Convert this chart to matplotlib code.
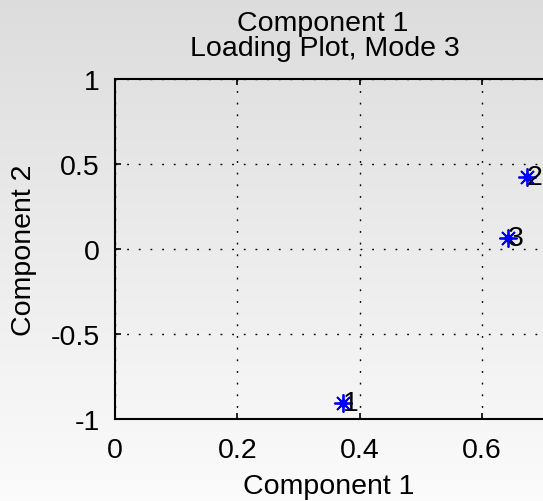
import numpy as np
import matplotlib
matplotlib.use("Agg")
import matplotlib.pyplot as plt

# loading values for mode 3, components 1 and 2
labels = ["1", "2", "3"]
comp1 = [0.373, 0.673, 0.643]
comp2 = [-0.904, 0.424, 0.063]

x_ticks = [0, 0.2, 0.4, 0.6]
x_ticklabels = ["0", "0.2", "0.4", "0.6"]
y_ticks = [-1, -0.5, 0, 0.5, 1]
y_ticklabels = ["-1", "-0.5", "0", "0.5", "1"]

plt.rcParams["font.family"] = ["Liberation Sans", "DejaVu Sans"]
FS = 20.5

W, H = 543, 502
fig = plt.figure(figsize=(W / 100, H / 100), dpi=100)

# grey figure gradient, darker at the top
bg = fig.add_axes([0, 0, 1, 1], zorder=-10)
grad = np.linspace(0.865, 0.985, 256).reshape(-1, 1)
bg.imshow(np.dstack([grad, grad, grad]), aspect="auto", extent=[0, 1, 0, 1],
          interpolation="bilinear")
bg.set_axis_off()

left, right = 115, 543.2
top, bottom = 80, 420
ax = fig.add_axes([left / W, 1 - bottom / H, (right - left) / W, (bottom - top) / H])
ax.patch.set_alpha(0)

ax.plot(comp1, comp2, linestyle="none", marker=(8, 2, 0), markersize=13,
        markeredgewidth=1.3, color=(0, 0, 1), zorder=3)
ax.plot(comp1, comp2, linestyle="none", marker="o", markersize=5,
        color=(0, 0, 1), zorder=3)
for lab, xv, yv in zip(labels, comp1, comp2):
    ax.text(xv, yv, lab, fontsize=FS, ha="left", va="center",
            color="black", zorder=4, clip_on=False)

ax.set_xlim(0, 0.7)
ax.set_ylim(-1, 1)
ax.set_xticks(x_ticks)
ax.set_xticklabels(x_ticklabels)
ax.set_yticks(y_ticks)
ax.set_yticklabels(y_ticklabels)
ax.tick_params(direction="in", top=True, length=4, width=1.2, labelsize=FS,
               colors="black")
ax.tick_params(axis="x", pad=13)
ax.tick_params(axis="y", pad=11)

ax.grid(True, color="black", linewidth=1.0, linestyle=(0, (1.3, 7.1)))
ax.set_axisbelow(True)
for side in ["left", "bottom", "top"]:
    ax.spines[side].set_linewidth(1.5)
ax.spines["right"].set_visible(False)

ax.set_xlabel("Component 1", fontsize=FS, labelpad=7)
ax.set_ylabel("Component 2", fontsize=FS, labelpad=10)

fig.text(323 / W, 1 - 31 / H, "Component 1", fontsize=FS, ha="center", va="baseline")
fig.text(325 / W, 1 - 56 / H, "Loading Plot, Mode 3", fontsize=FS, ha="center",
         va="baseline")

fig.savefig("out.png", dpi=100)
